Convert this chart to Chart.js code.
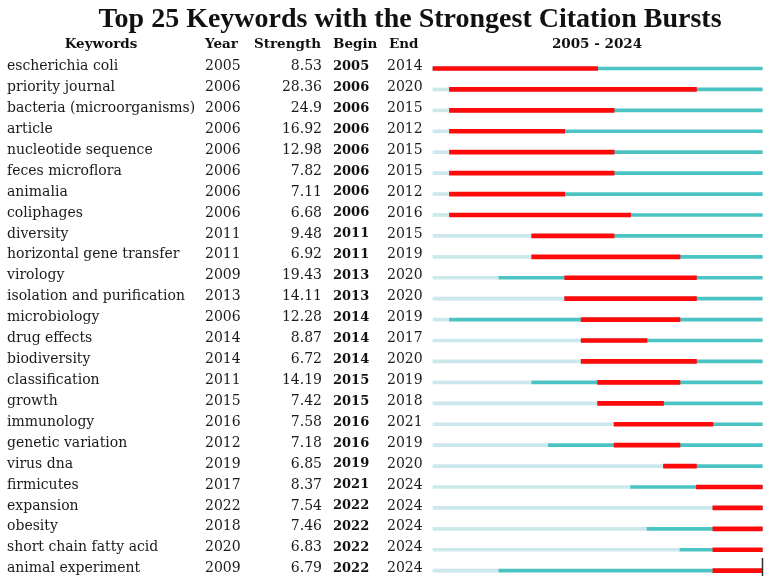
<!DOCTYPE html>
<html>
<head>
<meta charset="utf-8">
<script src="https://cdn.jsdelivr.net/npm/chart.js@4"></script>
<style>
  html, body { margin: 0; padding: 0; background: #fff; }
  #wrap { width: 767px; height: 576px; }
</style>
</head>
<body>
<div id="wrap"><canvas id="burst-chart" width="767" height="576"></canvas></div>
<script>
// data
const keywords = [
  'escherichia coli', 'priority journal', 'bacteria (microorganisms)', 'article',
  'nucleotide sequence', 'feces microflora', 'animalia', 'coliphages', 'diversity',
  'horizontal gene transfer', 'virology', 'isolation and purification', 'microbiology',
  'drug effects', 'biodiversity', 'classification', 'growth', 'immunology',
  'genetic variation', 'virus dna', 'firmicutes', 'expansion', 'obesity',
  'short chain fatty acid', 'animal experiment'
];
const years = [2005, 2006, 2006, 2006, 2006, 2006, 2006, 2006, 2011, 2011, 2009, 2013, 2006,
  2014, 2014, 2011, 2015, 2016, 2012, 2019, 2017, 2022, 2018, 2020, 2009];
const strengths = ['8.53', '28.36', '24.9', '16.92', '12.98', '7.82', '7.11', '6.68', '9.48',
  '6.92', '19.43', '14.11', '12.28', '8.87', '6.72', '14.19', '7.42', '7.58', '7.18', '6.85',
  '8.37', '7.54', '7.46', '6.83', '6.79'];
const begins = [2005, 2006, 2006, 2006, 2006, 2006, 2006, 2006, 2011, 2011, 2013, 2013, 2014,
  2014, 2014, 2015, 2015, 2016, 2016, 2019, 2021, 2022, 2022, 2022, 2022];
const ends = [2014, 2020, 2015, 2012, 2015, 2015, 2012, 2016, 2015, 2019, 2020, 2020, 2019,
  2017, 2020, 2019, 2018, 2021, 2019, 2020, 2024, 2024, 2024, 2024, 2024];
const firstYear = 2005;
const lastYear = 2024;

const title = 'Top 25 Keywords with the Strongest Citation Bursts';
const headers = ['Keywords', 'Year', 'Strength', 'Begin', 'End'];

// segments for each row
const beforeSeg = years.map(y => [firstYear, y]);
const activeSeg = years.map(y => [y, lastYear + 1]);
const burstSeg = begins.map((b, i) => [b, ends[i] + 1]);

// text table drawn next to the bars
const tablePlugin = {
  id: 'burstTable',
  afterDraw(chart) {
    const ctx = chart.ctx;
    const yScale = chart.scales.y;
    ctx.save();
    ctx.fillStyle = '#111';

    ctx.font = 'bold 28px "Liberation Serif"';
    ctx.textAlign = 'center';
    ctx.textBaseline = 'alphabetic';
    ctx.fillText(title, 410, 27);

    ctx.font = 'bold 13.5px "DejaVu Serif"';
    ctx.textBaseline = 'middle';
    ctx.textAlign = 'center';
    ctx.fillText(headers[0], 101, 44);
    ctx.textAlign = 'left';
    ctx.fillText(headers[1], 205, 44);
    ctx.fillText(headers[2], 254, 44);
    ctx.fillText(headers[3], 333, 44);
    ctx.fillText(headers[4], 389, 44);
    ctx.textAlign = 'center';
    ctx.fillText(firstYear + ' - ' + lastYear, 597, 44);

    keywords.forEach((k, i) => {
      const y = yScale.getPixelForValue(i) - 2;
      ctx.font = '14px "DejaVu Serif"';
      ctx.fillStyle = '#1a1a1a';
      ctx.textAlign = 'left';
      ctx.fillText(k, 7, y);
      ctx.fillText(String(years[i]), 205, y);
      ctx.textAlign = 'right';
      ctx.fillText(strengths[i], 322, y);
      ctx.textAlign = 'left';
      ctx.fillText(String(ends[i]), 387, y);
      ctx.font = 'bold 13px "DejaVu Serif"';
      ctx.fillStyle = '#111';
      ctx.fillText(String(begins[i]), 333, y);
    });

    // small dark edge mark at bottom right
    ctx.strokeStyle = '#333';
    ctx.lineWidth = 1.5;
    ctx.beginPath();
    ctx.moveTo(762.5, 558);
    ctx.lineTo(762.5, 576);
    ctx.stroke();
    ctx.restore();
  }
};

new Chart(document.getElementById('burst-chart'), {
  type: 'bar',
  data: {
    labels: keywords,
    datasets: [
      {
        label: 'burst',
        data: burstSeg,
        backgroundColor: '#ff0a0a',
        barThickness: 4,
        grouped: false,
        order: 0,
        clip: false
      },
      {
        label: 'active',
        data: activeSeg,
        backgroundColor: '#4cc3c3',
        barThickness: 3,
        grouped: false,
        order: 1,
        clip: false
      },
      {
        label: 'before',
        data: beforeSeg,
        backgroundColor: '#cbe8ec',
        barThickness: 3,
        grouped: false,
        order: 2,
        clip: false
      }
    ]
  },
  options: {
    indexAxis: 'y',
    responsive: false,
    animation: false,
    layout: {
      padding: { left: 433, right: 4.7, top: 68.5, bottom: 5.3 }
    },
    plugins: {
      legend: { display: false },
      tooltip: { enabled: false }
    },
    scales: {
      x: {
        type: 'linear',
        min: firstYear,
        max: lastYear + 1,
        display: false
      },
      y: {
        type: 'category',
        offset: false,
        display: false,
        grid: { display: false }
      }
    }
  },
  plugins: [tablePlugin]
});
</script>
</body>
</html>
